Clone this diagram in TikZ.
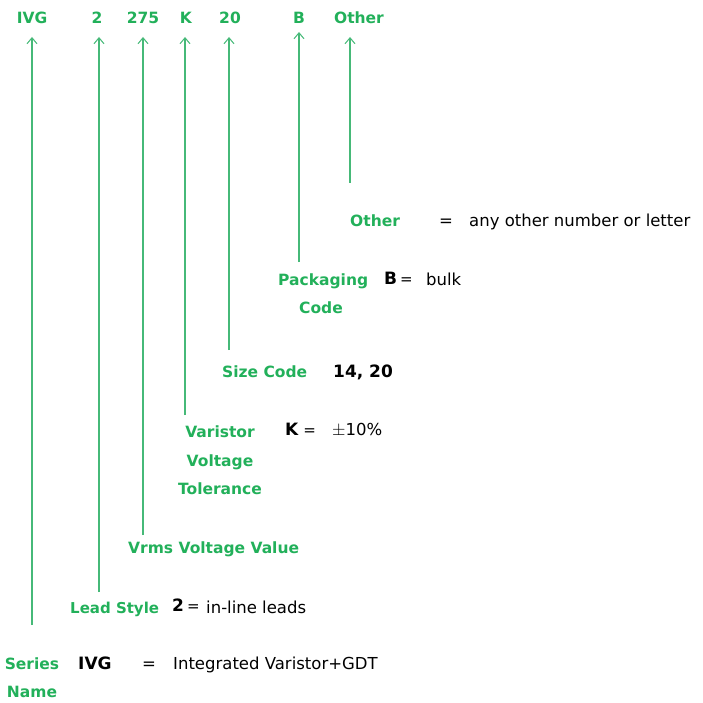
\documentclass[tikz,border=0pt]{standalone}
\usepackage{fontspec}
\setmainfont{DejaVu Sans}
\usetikzlibrary{arrows.meta}
\definecolor{gr}{RGB}{34,176,90}
\definecolor{ln}{RGB}{70,185,120}
\tikzset{
  lab/.style={text=gr,font=\bfseries\fontsize{15.5}{18}\selectfont,inner sep=0pt},
  top/.style={lab,anchor=base},
  val/.style={text=black,font=\fontsize{16.5}{19}\selectfont,inner sep=0pt,anchor=base west},
  bval/.style={text=black,font=\bfseries\fontsize{17}{19}\selectfont,inner sep=0pt,anchor=base west},
  arr/.style={draw=ln,line width=1.2pt,-{Straight Barb[length=6pt,width=10pt,line width=1pt]}},
}
\newcommand{\eqs}{\hspace{3pt}{\mdseries\fontsize{15}{17}\selectfont=}}
\begin{document}
\begin{tikzpicture}[x=1pt,y=-1pt]
\useasboundingbox (0,0) rectangle (702,703);
% top code
\node[top] (tIVG) at (32,24) {IVG};
\node[top] (t2) at (97,24) {2};
\node[top] (t275) at (143,24) {275};
\node[top] (tK) at (186,24) {K};
\node[top] (t20) at (230,24) {20};
\node[top] (tB) at (299,24) {B};
\node[top] (tO) at (359,24) {Other};
% tip coordinates
\coordinate (aIVG) at (32,37);
\coordinate (a2) at (99,37);
\coordinate (a275) at (143,37);
\coordinate (aK) at (185,37);
\coordinate (a20) at (229,37);
\coordinate (aB) at (299,32);
\coordinate (aO) at (350,37);
% bottom coordinates
\coordinate (bIVG) at (32,625);
\coordinate (b2) at (99,592);
\coordinate (b275) at (143,535);
\coordinate (bK) at (185,415);
\coordinate (b20) at (229,350);
\coordinate (bB) at (299,262);
\coordinate (bO) at (350,183);
\foreach \n in {IVG,2,275,K,20,B,O} \draw[arr] (b\n) -- (a\n);
% Other
\node[lab,anchor=base west] (lO) at (350,226) {Other};
\node[val] (eO) at (439,226) {=};
\node[val] (vO) at (469,226) {any other number or letter};
% Packaging
\node[lab,anchor=base west] (lB1) at (278,285) {Packaging};
\node[lab,anchor=base] (lB2) at (321,313) {Code};
\node[bval] (kB) at (384,284) {B\eqs};
\node[val] (vB) at (426,285) {bulk};
% Size code
\node[lab,anchor=base west] (l20) at (222,377) {Size Code};
\node[bval] (v20) at (333,377) {14, 20};
% Tolerance
\node[lab,anchor=base] (lK1) at (220,437) {Varistor};
\node[lab,anchor=base] (lK2) at (220,466) {Voltage};
\node[lab,anchor=base] (lK3) at (220,494) {Tolerance};
\node[bval] (kK) at (285,435) {K\hspace{2pt}\eqs};
\node[val] (vK) at (332,435) {$\pm$10\%};
% Vrms
\node[lab,anchor=base west] (l275) at (128,553) {Vrms Voltage Value};
% Lead style
\node[lab,anchor=base west,font=\bfseries\fontsize{15}{18}\selectfont] (l2) at (70,613) {Lead Style};
\node[bval] (k2) at (172,611) {2\eqs};
\node[val] (v2) at (206,613) {in-line leads};
% Series
\node[lab,anchor=base] (lS1) at (32,669) {Series};
\node[lab,anchor=base] (lS2) at (32,697) {Name};
\node[bval] (kS) at (78,669) {IVG};
\node[val] (eS) at (142,669) {=};
\node[val] (vS) at (173,669) {Integrated Varistor+GDT};
\end{tikzpicture}
\end{document}
